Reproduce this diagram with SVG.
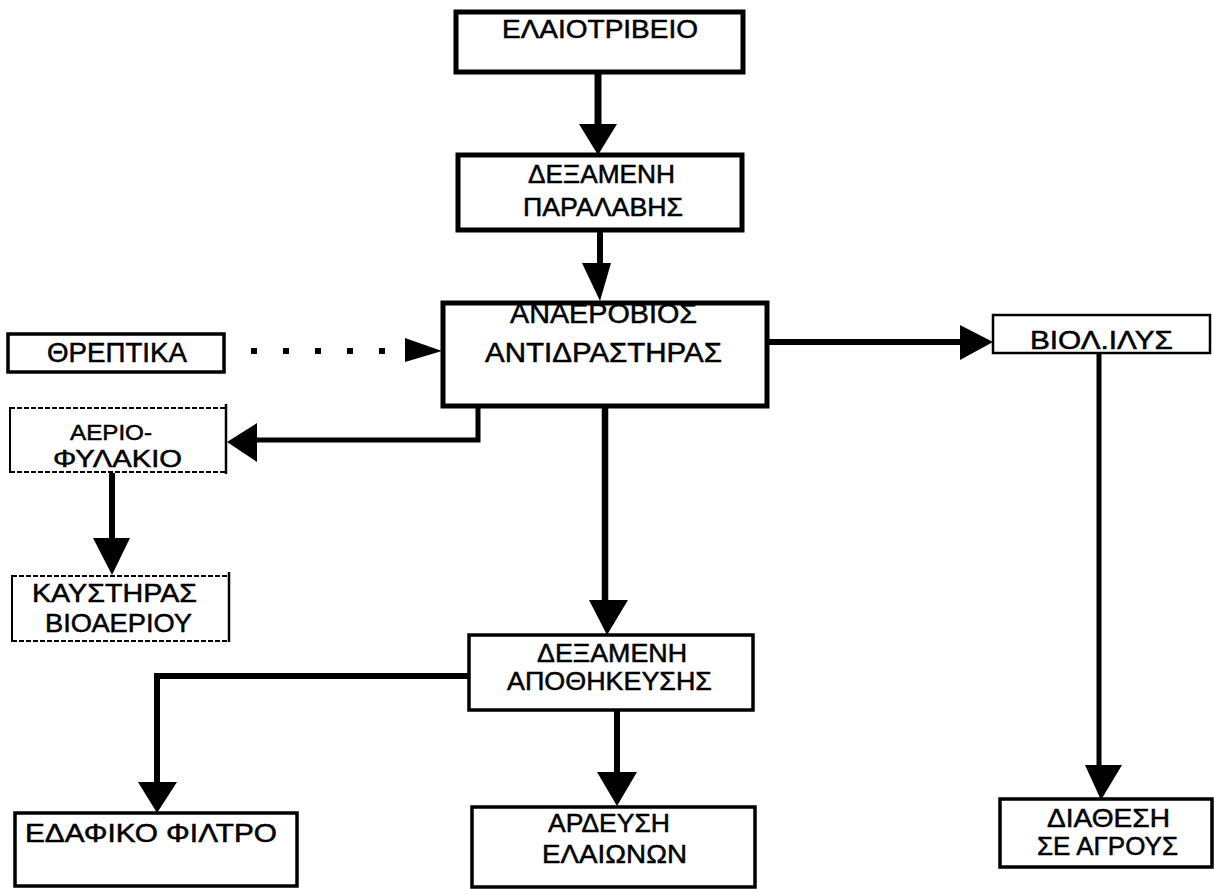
<svg xmlns="http://www.w3.org/2000/svg" width="1214" height="889" viewBox="0 0 1214 889">
<style>
.box{fill:none;stroke:#000;stroke-width:3.5}
.thick{stroke-width:5}
.thin{stroke-width:2.5}
.dot{fill:none;stroke:#000;stroke-width:2;stroke-dasharray:5 2}
.side{stroke:#000;stroke-width:2;fill:none}
.lbl{font-family:"Liberation Sans",Arial,sans-serif;fill:#000;stroke:#000;stroke-width:0.5}
.ln{fill:none;stroke:#000;stroke-width:6}
.head{fill:#000}
</style>
<rect width="1214" height="889" fill="#fff"/>
<g id="connectors">
  <line class="ln" x1="598" y1="72" x2="598" y2="128" style="stroke-width:7"/>
  <polygon class="head" points="579,124 617,124 598,155"/>
  <line class="ln" x1="600" y1="230" x2="600" y2="266"/>
  <polygon class="head" points="582,263 611,263 600,301"/>
  <line x1="226" y1="351" x2="405" y2="351" stroke="#000" stroke-width="6" stroke-dasharray="6 26" stroke-dashoffset="-25"/>
  <polygon class="head" points="405,338 442,351 405,362"/>
  <polyline class="ln" points="478,406 478,440 255,440" style="stroke-width:5"/>
  <polygon class="head" points="257,423 227,442 257,462"/>
  <line class="ln" x1="112" y1="473" x2="112" y2="540"/>
  <polygon class="head" points="93,538 130,538 112,575"/>
  <line class="ln" x1="767" y1="342" x2="962" y2="342"/>
  <polygon class="head" points="960,325 993,342 960,360"/>
  <line class="ln" x1="1099" y1="353" x2="1099" y2="768" style="stroke-width:5"/>
  <polygon class="head" points="1085,765 1122,765 1101,800"/>
  <line class="ln" x1="605" y1="406" x2="605" y2="603" style="stroke-width:6.5"/>
  <polygon class="head" points="589,600 628,600 607,635"/>
  <polyline class="ln" points="469,676 157,676 157,785"/>
  <polygon class="head" points="138,782 177,782 157,813"/>
  <line class="ln" x1="617" y1="710" x2="617" y2="775"/>
  <polygon class="head" points="597,772 637,772 617,806"/>
</g>
<g id="n-elaiotriveio">
  <rect class="box thick" x="456" y="12" width="287" height="60"/>
  <text class="lbl" x="502" y="38" font-size="25" textLength="196" lengthAdjust="spacingAndGlyphs">ΕΛΑΙΟΤΡΙΒΕΙΟ</text>
</g>
<g id="n-dexameni-paralavis">
  <rect class="box thick" x="458" y="155" width="284" height="75"/>
  <text class="lbl" x="528" y="183" font-size="25" textLength="147" lengthAdjust="spacingAndGlyphs">ΔΕΞΑΜΕΝΗ</text>
  <text class="lbl" x="523" y="216" font-size="25" textLength="160" lengthAdjust="spacingAndGlyphs">ΠΑΡΑΛΑΒΗΣ</text>
</g>
<g id="n-antidrastiras">
  <rect class="box thick" x="443" y="303" width="324" height="103"/>
  <text class="lbl" x="510" y="323" font-size="27" textLength="187" lengthAdjust="spacingAndGlyphs">ΑΝΑΕΡΟΒΙΟΣ</text>
  <text class="lbl" x="485" y="362" font-size="27" textLength="237" lengthAdjust="spacingAndGlyphs">ΑΝΤΙΔΡΑΣΤΗΡΑΣ</text>
</g>
<g id="n-threptika">
  <rect class="box" x="8" y="334" width="216" height="38"/>
  <text class="lbl" x="47" y="362" font-size="27" textLength="140" lengthAdjust="spacingAndGlyphs">ΘΡΕΠΤΙΚΑ</text>
</g>
<g id="n-aeriofylakio">
  <line class="dot" x1="10" y1="408" x2="227" y2="408"/>
  <line class="dot" x1="10" y1="472" x2="227" y2="472"/>
  <line class="side" x1="10" y1="407" x2="10" y2="473"/>
  <line class="side" x1="226" y1="404" x2="226" y2="474" style="stroke-width:2.5"/>
  <text class="lbl" x="70" y="440" font-size="22" textLength="82" lengthAdjust="spacingAndGlyphs">ΑΕΡΙΟ-</text>
  <text class="lbl" x="53" y="467" font-size="24" textLength="129" lengthAdjust="spacingAndGlyphs">ΦΥΛΑΚΙΟ</text>
</g>
<g id="n-kaystiras">
  <line class="dot" x1="12" y1="576" x2="229" y2="576"/>
  <line class="dot" x1="12" y1="641" x2="229" y2="641"/>
  <line class="side" x1="12" y1="575" x2="12" y2="642"/>
  <line class="side" x1="229" y1="572" x2="229" y2="642" style="stroke-width:2.5"/>
  <text class="lbl" x="32" y="602" font-size="26" textLength="165" lengthAdjust="spacingAndGlyphs">ΚΑΥΣΤΗΡΑΣ</text>
  <text class="lbl" x="45" y="632" font-size="26" textLength="147" lengthAdjust="spacingAndGlyphs">ΒΙΟΑΕΡΙΟΥ</text>
</g>
<g id="n-violilys">
  <rect class="box thin" x="993" y="315" width="217" height="38"/>
  <text class="lbl" x="1030" y="349" font-size="25" textLength="143" lengthAdjust="spacingAndGlyphs">ΒΙΟΛ.ΙΛΥΣ</text>
</g>
<g id="n-diathesi">
  <rect class="box" x="1000" y="799" width="212" height="68"/>
  <text class="lbl" x="1047" y="827" font-size="25" textLength="123" lengthAdjust="spacingAndGlyphs">ΔΙΑΘΕΣΗ</text>
  <text class="lbl" x="1037" y="855" font-size="25" textLength="141" lengthAdjust="spacingAndGlyphs">ΣΕ ΑΓΡΟΥΣ</text>
</g>
<g id="n-dexameni-apothikeysis">
  <rect class="box" x="469" y="635" width="284" height="75"/>
  <text class="lbl" x="537" y="662" font-size="25" textLength="150" lengthAdjust="spacingAndGlyphs">ΔΕΞΑΜΕΝΗ</text>
  <text class="lbl" x="507" y="690" font-size="25" textLength="205" lengthAdjust="spacingAndGlyphs">ΑΠΟΘΗΚΕΥΣΗΣ</text>
</g>
<g id="n-edafiko-filtro">
  <rect class="box" x="15" y="813" width="282" height="73"/>
  <text class="lbl" x="25" y="842" font-size="25" textLength="252" lengthAdjust="spacingAndGlyphs">ΕΔΑΦΙΚΟ ΦΙΛΤΡΟ</text>
</g>
<g id="n-ardeysi">
  <rect class="box" x="472" y="807" width="283" height="80"/>
  <text class="lbl" x="548" y="832" font-size="26" textLength="122" lengthAdjust="spacingAndGlyphs">ΑΡΔΕΥΣΗ</text>
  <text class="lbl" x="542" y="863" font-size="26" textLength="145" lengthAdjust="spacingAndGlyphs">ΕΛΑΙΩΝΩΝ</text>
</g>
</svg>
